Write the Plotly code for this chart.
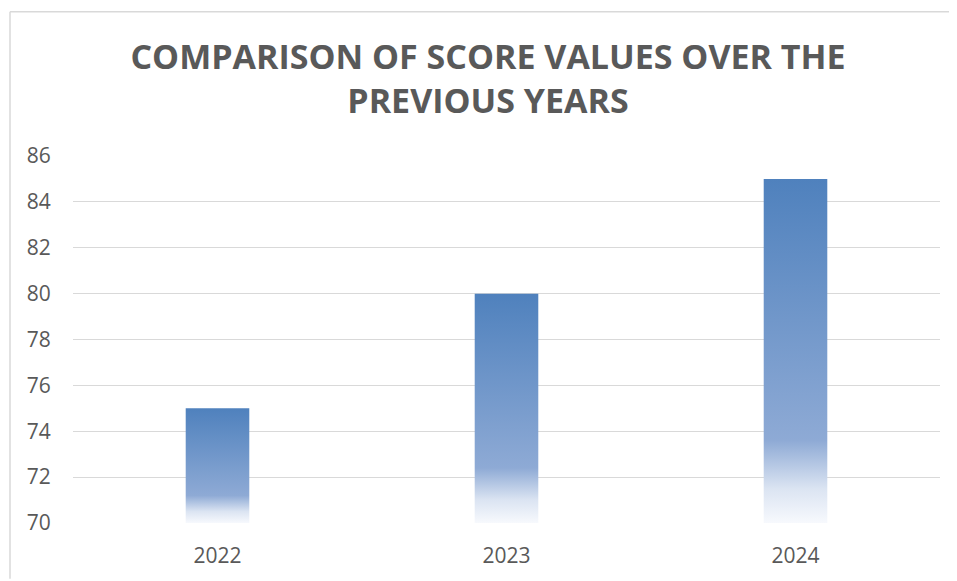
import plotly.graph_objects as go

years = ["2022", "2023", "2024"]
scores = [75, 80, 85]
y_base = 70
y_ticks = [70, 72, 74, 76, 78, 80, 82, 84, 86]

bar_width = 0.22
grad = [[0.0, "#f7f9fd"], [0.1, "#dbe4f2"], [0.24, "#8eaad5"], [1.0, "#4f81bd"]]

fig = go.Figure()
for i, (yr, v) in enumerate(zip(years, scores)):
    x0, x1 = i - bar_width / 2, i + bar_width / 2
    fig.add_trace(go.Scatter(
        x=[x0, x1, x1, x0, x0], y=[y_base, y_base, v, v, y_base],
        mode="lines", line=dict(width=0), fill="toself",
        fillgradient=dict(type="vertical", colorscale=grad),
        hoverinfo="skip", showlegend=False, name=yr,
    ))

W, H = 949, 573
L, R, T, B = 65, 17, 148, 56
PW, PH = W - L - R, H - T - B

font = "Open Sans, Noto Sans, DejaVu Sans, sans-serif"
fig.update_layout(
    width=W, height=H,
    margin=dict(l=L, r=R, t=T, b=B),
    paper_bgcolor="white", plot_bgcolor="white",
    title=dict(text="<b>COMPARISON OF SCORE VALUES OVER THE<br>PREVIOUS YEARS</b>",
               font=dict(family=font, size=34, color="#595959"),
               x=480 / W, xanchor="center", xref="container",
               y=1 - 61 / H, yanchor="top", yref="container"),
    xaxis=dict(range=[-0.5, 2.5], tickvals=list(range(len(years))), ticktext=years,
               showgrid=False, zeroline=False, showline=False,
               ticks="outside", ticklen=14, tickcolor="rgba(0,0,0,0)",
               tickfont=dict(family=font, size=21, color="#595959"), fixedrange=True),
    yaxis=dict(range=[70, 86], tickvals=y_ticks, showgrid=True, gridcolor="#d9d9d9", gridwidth=1.3,
               zeroline=False, showline=False,
               ticks="outside", ticklen=17, tickcolor="rgba(0,0,0,0)",
               tickfont=dict(family=font, size=21, color="#595959"), fixedrange=True),
    shapes=[
        dict(type="line", xref="paper", yref="paper", x0=(2 - L) / PW, x1=(W - L) / PW,
             y0=1 + (T - 3) / PH, y1=1 + (T - 3) / PH, line=dict(color="#d9d9d9", width=1.5)),
        dict(type="line", xref="paper", yref="paper", x0=(2 - L) / PW, x1=(2 - L) / PW,
             y0=1 + (T - 3) / PH, y1=-B / PH, line=dict(color="#d9d9d9", width=1.5)),
    ],
)
fig.write_html("out.html")
